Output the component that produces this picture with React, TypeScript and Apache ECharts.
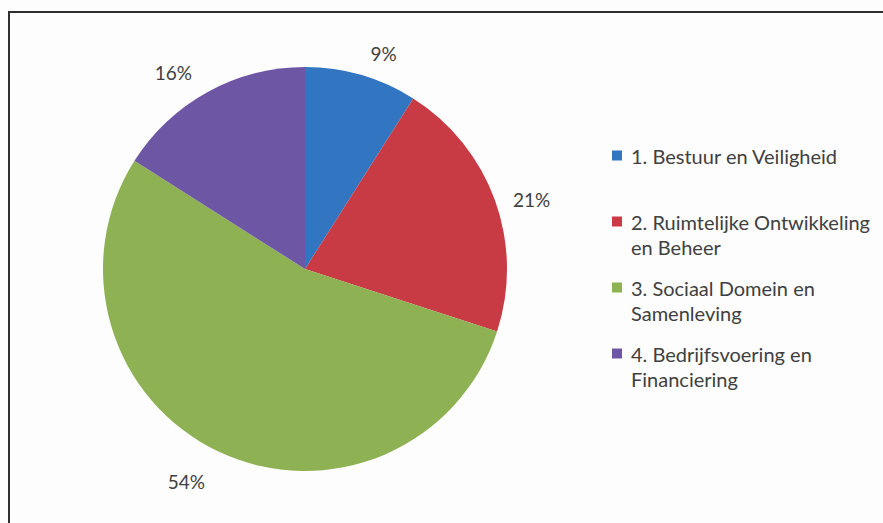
import { useEffect, useRef } from "react";
import * as echarts from "echarts";

const categories = [
  "1. Bestuur en Veiligheid",
  "2. Ruimtelijke Ontwikkeling en Beheer",
  "3. Sociaal Domein en Samenleving",
  "4. Bedrijfsvoering en Financiering",
];
const shares = [9, 21, 54, 16];
const legendLines = [
  ["1. Bestuur en Veiligheid"],
  ["2. Ruimtelijke Ontwikkeling", "en Beheer"],
  ["3. Sociaal Domein en", "Samenleving"],
  ["4. Bedrijfsvoering en", "Financiering"],
];
const colors = ["#3275C1", "#C93B44", "#8DB153", "#6D56A3"];
// label offsets (style only): [length, length2]
const labelOffsets = [
  [22, 3],
  [2, 16],
  [33, 0],
  [22, 5],
];

const FONT = "Lato";

export default function App() {
  const ref = useRef<HTMLDivElement>(null);
  useEffect(() => {
    if (!ref.current) return;
    const chart = echarts.init(ref.current, undefined, { renderer: "svg" });
    chart.setOption({
      animation: false,
      backgroundColor: "#FDFDFD",
      color: colors,
      graphic: [
        {
          type: "rect",
          shape: { x: 9, y: 12, width: 900, height: 600 },
          style: { fill: "none", stroke: "#2f2f2f", lineWidth: 2 },
          silent: true,
        },
      ],
      legend: {
        orient: "vertical",
        left: 612,
        top: 118,
        padding: 0,
        itemWidth: 10,
        itemHeight: 10,
        itemGap: -9,
        icon: "rect",
        data: categories,
        formatter: (name: string) => {
          const lines = legendLines[categories.indexOf(name)];
          return lines.length === 1 ? " \n" + lines[0] + "\n " : " \n" + lines[0] + "\n" + lines[1];
        },
        textStyle: {
          fontFamily: FONT,
          fontSize: 20,
          color: "#404040",
          lineHeight: 25,
          padding: [0, 0, 0, 4],
        },
      },
      series: [
        {
          type: "pie",
          center: [305, 269],
          radius: 202,
          startAngle: 90,
          clockwise: true,
          avoidLabelOverlap: false,
          itemStyle: { borderWidth: 0 },
          label: {
            show: true,
            position: "outside",
            distanceToLabelLine: 0,
            formatter: (p: any) => Math.round(p.percent) + "%",
            fontFamily: FONT,
            fontSize: 19,
            color: "#404040",
          },
          labelLine: { show: false, length: 22, length2: 5 },
          emphasis: { disabled: true },
          data: categories.map((name, i) => ({
            name,
            value: shares[i],
            labelLine: { show: false, length: labelOffsets[i][0], length2: labelOffsets[i][1] },
          })),
        },
      ],
    });
    return () => chart.dispose();
  }, []);
  return (
    <div
      ref={ref}
      style={{ position: "fixed", left: 0, top: 0, width: 883, height: 523 }}
    />
  );
}
